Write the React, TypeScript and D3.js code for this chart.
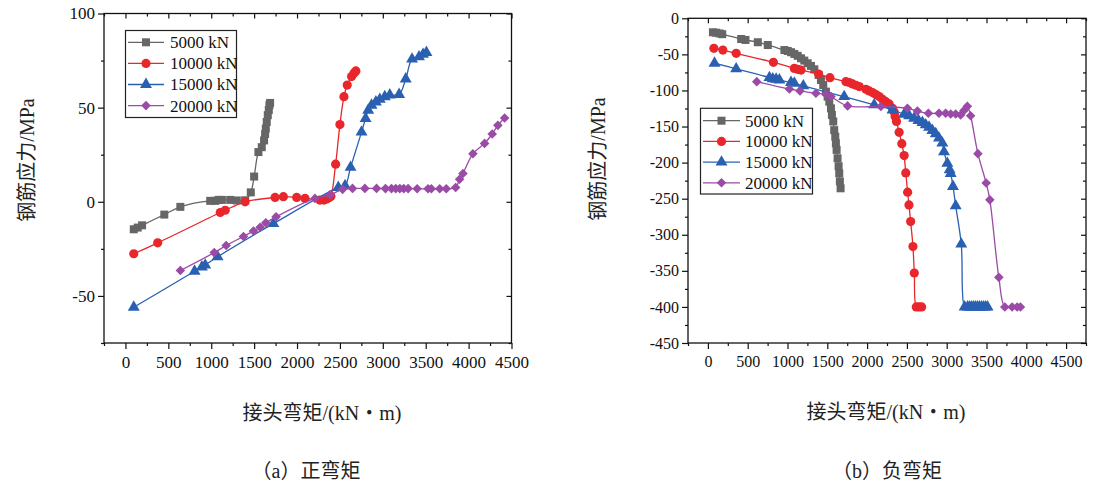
import React, { useEffect, useRef } from "react";
import * as d3 from "d3";

// (a) 正弯矩 —— 接头弯矩 x / 钢筋应力 y
const posX5000 = [97, 143, 194, 453, 640, 988, 1047, 1085, 1124, 1221, 1298, 1395, 1461, 1500, 1550, 1589, 1616, 1628, 1636, 1647, 1659, 1671, 1678, 1686];
const posY5000 = [-14.6, -13.7, -12.5, -6.8, -2.7, 0.5, 0.5, 1, 1, 1, 0.7, 0.8, 5, 13.4, 26.4, 29, 32.6, 36, 38.9, 42.4, 46, 48.7, 51.3, 52.5];
const posX10000 = [97, 376, 1105, 1163, 1395, 1744, 1841, 1996, 2093, 2267, 2314, 2345, 2376, 2395, 2450, 2500, 2547, 2585, 2636, 2663, 2686];
const posY10000 = [-27.6, -21.8, -5.7, -4.5, 0, 2.3, 2.7, 2.3, 1.8, 0.9, 0.9, 1.5, 2.3, 3, 20, 41, 55.8, 62, 66.5, 68.3, 69.5];
const posX15000 = [97, 806, 891, 930, 1074, 1724, 2481, 2560, 2624, 2752, 2799, 2830, 2868, 2919, 2965, 3023, 3081, 3190, 3267, 3341, 3422, 3469, 3508];
const posY15000 = [-56, -36.9, -34.6, -33.6, -29.2, -11.6, 7.6, 8.5, 18.3, 37, 44.2, 48.6, 51.3, 53, 54.4, 55.8, 56.7, 57, 65.2, 75.8, 77, 78.3, 79.3];
const posX20000 = [640, 1035, 1174, 1376, 1492, 1570, 1636, 1756, 2209, 2384, 2531, 2647, 2791, 2927, 3031, 3101, 3151, 3198, 3244, 3295, 3400, 3527, 3566, 3663, 3740, 3849, 3895, 3934, 4050, 4186, 4275, 4341, 4420];
const posY20000 = [-36.5, -27, -23.2, -18.4, -15.5, -13.5, -11.2, -8, 1.8, 3.7, 6.6, 7.1, 7.1, 7.1, 7, 7, 7, 7, 7, 7, 6.9, 6.9, 6.9, 6.9, 6.9, 7.6, 12, 15, 25.5, 31, 36, 40.6, 44.5];

// (b) 负弯矩
const negX5000 = [63, 104, 146, 180, 418, 472, 627, 752, 961, 1003, 1044, 1086, 1128, 1170, 1211, 1253, 1295, 1337, 1391, 1420, 1449, 1483, 1504, 1525, 1546, 1558, 1575, 1587, 1600, 1608, 1617, 1629, 1642, 1650, 1658, 1667];
const negY5000 = [-19.4, -20, -21, -22, -28.7, -30, -33.2, -37, -44, -45.3, -47, -49.4, -52, -55.4, -58.6, -62.3, -66, -70.7, -78.5, -85.5, -92.4, -101.6, -108.5, -115.5, -124.8, -134, -143, -155, -164, -173.2, -182.4, -194, -205, -214.8, -226, -235.6];
const negX10000 = [75, 188, 355, 823, 1086, 1128, 1170, 1391, 1533, 1734, 1776, 1817, 1859, 1901, 1985, 2026, 2068, 2110, 2152, 2194, 2235, 2277, 2319, 2340, 2352, 2369, 2402, 2436, 2465, 2486, 2509, 2526, 2547, 2576, 2593, 2618, 2651, 2685];
const negY10000 = [-41.6, -44, -48.6, -61, -69.4, -70.7, -71.7, -77.2, -82.3, -87.8, -89, -91, -92.8, -94.6, -98.3, -100.6, -103, -105.7, -108.5, -112.2, -115.5, -118.7, -124.7, -130, -136, -143, -158, -173.7, -190.3, -214.3, -241, -258.6, -281.7, -316.3, -353, -400, -400, -400];
const negX15000 = [83, 355, 773, 815, 857, 898, 1044, 1086, 1199, 1712, 2089, 2319, 2465, 2528, 2590, 2645, 2695, 2736, 2778, 2820, 2862, 2903, 2945, 2966, 3008, 3037, 3050, 3079, 3113, 3183, 3225, 3263, 3288, 3313, 3338, 3363, 3388, 3413, 3438, 3463, 3488, 3513];
const negY15000 = [-62.3, -70, -82.2, -84, -84.5, -85.5, -89, -90, -93.7, -108.5, -120, -127, -133, -135, -138.5, -141.6, -144.4, -147.6, -151, -155.5, -160, -166, -173, -185, -201, -210, -215, -233, -260, -313, -400, -400, -400, -400, -400, -400, -400, -400, -400, -400, -400, -400];
const negX20000 = [614, 1023, 1157, 1357, 1483, 1546, 1755, 2173, 2507, 2632, 2770, 2903, 2987, 3050, 3113, 3175, 3217, 3259, 3300, 3392, 3496, 3542, 3655, 3730, 3822, 3885, 3926];
const negY20000 = [-87.8, -98, -100.6, -103.9, -105.3, -108.5, -121.4, -122.3, -124.7, -128.5, -131.7, -131.7, -131.7, -132.6, -132.6, -134, -127.7, -122, -135, -187.6, -228.3, -251.6, -359, -400, -400, -400, -400];

const seriesNames = ["5000 kN", "10000 kN", "15000 kN", "20000 kN"];
const seriesColors = ["#666666", "#e8262b", "#2a60b2", "#9a4ba6"];

const xMajor = [0, 500, 1000, 1500, 2000, 2500, 3000, 3500, 4000, 4500];
const posYMajor = [100, 50, 0, -50];
const negYMajor = [0, -50, -100, -150, -200, -250, -300, -350, -400, -450];

const yTitle = "钢筋应力/MPa";
const xTitle = "接头弯矩/(kN・m)";

const LATIN = "'Liberation Serif', 'Times New Roman', serif";
const MIXED = "'Liberation Serif', 'Noto Sans CJK SC', serif";

interface Panel {
  xDomain: [number, number];
  xRange: [number, number];
  yDomain: [number, number];
  yRange: [number, number];
  yMajor: number[];
  xs: number[][];
  ys: number[][];
  tickFont: number;
  legend: { x: number; y: number; w: number; h: number; row0: number; dy: number; l0: number; l1: number; tx: number };
  yTitlePos: [number, number];
  xTitlePos: [number, number];
  caption: string;
  captionPos: [number, number];
}

const panels: Panel[] = [
  {
    xDomain: [-250, 4500],
    xRange: [104, 511.5],
    yDomain: [-75, 100],
    yRange: [343, 13.5],
    yMajor: posYMajor,
    xs: [posX5000, posX10000, posX15000, posX20000],
    ys: [posY5000, posY10000, posY15000, posY20000],
    tickFont: 17,
    legend: { x: 125.5, y: 30.5, w: 111, h: 87, row0: 42.3, dy: 21.1, l0: 128, l1: 164, tx: 170 },
    yTitlePos: [27, 160],
    xTitlePos: [322, 413],
    caption: "（a）正弯矩",
    captionPos: [306, 471],
  },
  {
    xDomain: [-250, 4750],
    xRange: [688, 1086],
    yDomain: [-450, 0],
    yRange: [343, 18.3],
    yMajor: negYMajor,
    xs: [negX5000, negX10000, negX15000, negX20000],
    ys: [negY5000, negY10000, negY15000, negY20000],
    tickFont: 16,
    legend: { x: 700.5, y: 108.3, w: 112, h: 85.7, row0: 120.7, dy: 20.7, l0: 703, l1: 740, tx: 745 },
    yTitlePos: [598, 159],
    xTitlePos: [886, 412],
    caption: "（b）负弯矩",
    captionPos: [887, 471],
  },
];

// 标记形状：方块、圆、三角、菱形
const drawMarker = (g: d3.Selection<SVGGElement, unknown, null, undefined>, i: number, cx: number, cy: number) => {
  const color = seriesColors[i];
  if (i === 0) {
    g.append("rect").attr("x", cx - 4).attr("y", cy - 4).attr("width", 8).attr("height", 8).attr("fill", color);
  } else if (i === 1) {
    g.append("circle").attr("cx", cx).attr("cy", cy).attr("r", 4.6).attr("fill", color);
  } else if (i === 2) {
    g.append("path")
      .attr("d", d3.symbol().type(d3.symbolTriangle).size(62)())
      .attr("transform", `translate(${cx},${cy})`)
      .attr("fill", color);
  } else {
    g.append("path")
      .attr("d", d3.symbol().type(d3.symbolSquare).size(46)())
      .attr("transform", `translate(${cx},${cy}) rotate(45)`)
      .attr("fill", color);
  }
};

const App: React.FC = () => {
  const svgRef = useRef<SVGSVGElement>(null);

  useEffect(() => {
    const svg = d3.select(svgRef.current);
    svg.selectAll("*").remove();

    panels.forEach((p) => {
      const x = d3.scaleLinear().domain(p.xDomain).range(p.xRange);
      const y = d3.scaleLinear().domain(p.yDomain).range(p.yRange);
      const [x0, x1] = p.xRange;
      const [yb, yt] = p.yRange;
      const g = svg.append("g");

      const xMinor = d3.range(p.xDomain[0], p.xDomain[1] + 1, 250).filter((v) => v % 500 !== 0);
      const yMinor = d3.range(p.yDomain[0], p.yDomain[1] + 1, 25).filter((v) => !p.yMajor.includes(v));

      // 底轴
      const bottom = g.append("g").attr("transform", `translate(0,${yb})`);
      bottom.call(d3.axisBottom(x).tickValues(xMajor).tickSize(6).tickPadding(7).tickFormat((d) => String(d)));
      bottom.append("g").call(d3.axisBottom(x).tickValues(xMinor).tickSize(3).tickFormat(() => ""));
      // 左轴
      const left = g.append("g").attr("transform", `translate(${x0},0)`);
      left.call(d3.axisLeft(y).tickValues(p.yMajor).tickSize(6).tickPadding(3).tickFormat((d) => String(d)));
      left.append("g").call(d3.axisLeft(y).tickValues(yMinor).tickSize(3).tickFormat(() => ""));
      // 顶轴、右轴 (向内)
      const top = g.append("g").attr("transform", `translate(0,${yt})`);
      top.call(d3.axisBottom(x).tickValues(xMajor).tickSize(5).tickFormat(() => ""));
      top.append("g").call(d3.axisBottom(x).tickValues(xMinor).tickSize(3).tickFormat(() => ""));
      const right = g.append("g").attr("transform", `translate(${x1},0)`);
      right.call(d3.axisLeft(y).tickValues(p.yMajor).tickSize(5).tickFormat(() => ""));
      right.append("g").call(d3.axisLeft(y).tickValues(yMinor).tickSize(3).tickFormat(() => ""));

      g.selectAll(".domain").remove();
      g.selectAll(".tick line").attr("stroke", "#111").attr("stroke-width", 1.2);
      g.selectAll(".tick text").attr("fill", "#111").style("font-family", LATIN).style("font-size", `${p.tickFont}px`);

      g.append("rect")
        .attr("x", x0)
        .attr("y", yt)
        .attr("width", x1 - x0)
        .attr("height", yb - yt)
        .attr("fill", "none")
        .attr("stroke", "#111")
        .attr("stroke-width", 1.3);

      // 曲线
      const line = d3
        .line<[number, number]>()
        .x((d) => x(d[0]))
        .y((d) => y(d[1]))
        .curve(d3.curveCatmullRom.alpha(0.5));

      p.xs.forEach((xs, i) => {
        const pts: [number, number][] = xs.map((v, k) => [v, p.ys[i][k]]);
        const sg = g.append("g");
        sg.append("path")
          .attr("d", line(pts))
          .attr("fill", "none")
          .attr("stroke", seriesColors[i])
          .attr("stroke-width", 1.3);
        pts.forEach((d) => drawMarker(sg, i, x(d[0]), y(d[1])));
      });

      // 图例
      const L = p.legend;
      const lg = g.append("g");
      lg.append("rect")
        .attr("x", L.x)
        .attr("y", L.y)
        .attr("width", L.w)
        .attr("height", L.h)
        .attr("fill", "white")
        .attr("stroke", "#222")
        .attr("stroke-width", 1.2);
      seriesNames.forEach((name, i) => {
        const ry = L.row0 + i * L.dy;
        lg.append("line")
          .attr("x1", L.l0)
          .attr("x2", L.l1)
          .attr("y1", ry)
          .attr("y2", ry)
          .attr("stroke", seriesColors[i])
          .attr("stroke-width", 1.3);
        drawMarker(lg, i, (L.l0 + L.l1) / 2, ry);
        lg.append("text")
          .attr("x", L.tx)
          .attr("y", ry)
          .attr("dy", "0.35em")
          .style("font-family", LATIN)
          .style("font-size", "17px")
          .attr("fill", "#111")
          .text(name);
      });

      // 轴标题
      g.append("text")
        .attr("transform", `translate(${p.yTitlePos[0]},${p.yTitlePos[1]}) rotate(-90)`)
        .attr("text-anchor", "middle")
        .attr("dy", "0.35em")
        .style("font-family", MIXED)
        .style("font-size", "20px")
        .attr("fill", "#222")
        .text(yTitle);
      g.append("text")
        .attr("x", p.xTitlePos[0])
        .attr("y", p.xTitlePos[1])
        .attr("text-anchor", "middle")
        .attr("dy", "0.35em")
        .style("font-family", MIXED)
        .style("font-size", "20px")
        .attr("fill", "#222")
        .text(xTitle);
      g.append("text")
        .attr("x", p.captionPos[0])
        .attr("y", p.captionPos[1])
        .attr("text-anchor", "middle")
        .attr("dy", "0.35em")
        .style("font-family", MIXED)
        .style("font-size", "20px")
        .attr("fill", "#222")
        .text(p.caption);
    });
  }, []);

  return (
    <svg
      ref={svgRef}
      width={1102}
      height={484}
      style={{ position: "absolute", left: 0, top: 0, background: "white" }}
    ></svg>
  );
};

export default App;
